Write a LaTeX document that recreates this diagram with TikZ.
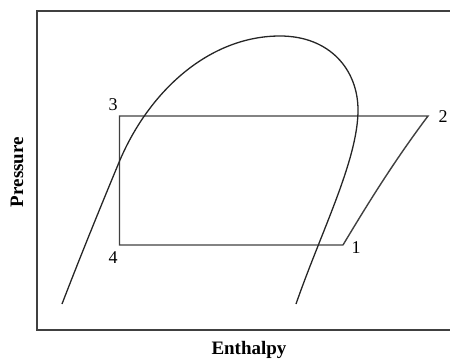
\documentclass[tikz,border=0pt]{standalone}
\usepackage{fontspec}
\setmainfont{Liberation Serif}
\begin{document}
\begin{tikzpicture}[x=1pt,y=-1pt,
  frame/.style={draw=black!75,line width=1.6pt},
  curve/.style={draw=black!85,line width=1.3pt},
  cycle/.style={draw=black!75,line width=1.4pt,line join=miter},
  num/.style={font=\fontsize{18}{20}\selectfont,inner sep=0pt},
  axis/.style={font=\fontsize{19}{21}\selectfont\bfseries,inner sep=0pt}]
\useasboundingbox (0,0) rectangle (450,362);
% frame
\coordinate (ftr) at (451,11);
\coordinate (ftl) at (37,11);
\coordinate (fbl) at (37,330);
\coordinate (fbr) at (451,330);
\draw[frame] (ftr) -- (ftl) -- (fbl) -- (fbr);
% cycle points
\coordinate (p1) at (343,245);
\coordinate (p2) at (428,116);
\coordinate (p3) at (119.5,116);
\coordinate (p4) at (119.5,245);
\draw[cycle] (p1) -- (p4) -- (p3) -- (p2) .. controls (395,160) and (370,200) .. (p1);
% saturation dome
\draw[curve] (62,304) .. controls (82,252) and (105,196) .. (120,160)
  .. controls (150,90) and (210,36) .. (280,36)
  .. controls (330,36) and (358,70) .. (358,110)
  .. controls (358,160) and (321,232) .. (296,304);
% labels
\node[num] (l3) at (113,105) {3};
\node[num] (l2) at (443,117) {2};
\node[num] (l1) at (356,248) {1};
\node[num] (l4) at (113,258) {4};
\node[axis,rotate=90] (py) at (17,172) {Pressure};
\node[axis] (hx) at (249,350) {Enthalpy};
\end{tikzpicture}
\end{document}
